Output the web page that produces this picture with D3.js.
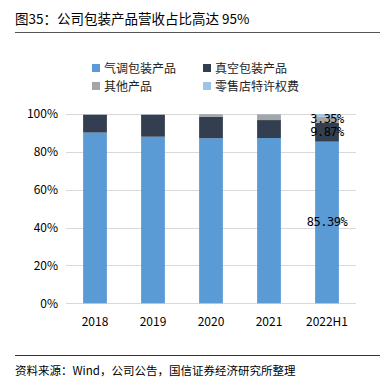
<!DOCTYPE html>
<html><head><meta charset="utf-8">
<script src="https://cdn.jsdelivr.net/npm/d3@7"></script>
<style>body{margin:0;background:#fff}svg{display:block}</style>
</head><body>
<svg id="c" width="380" height="380"></svg>
<script>
const categories = ["2018","2019","2020","2021","2022H1"];
const seriesNames = ["气调包装产品","真空包装产品","其他产品","零售店特许权费"];
const modifiedAtmosphere = [90.2, 88.0, 87.2, 87.3, 85.39];
const vacuum = [9.4, 11.6, 11.4, 9.5, 9.87];
const other = [0.3, 0.3, 1.3, 3.0, 3.35];
const franchise = [0.1, 0.1, 0.1, 0.2, 1.39];
const yTicks = [0,20,40,60,80,100];
const labels2022 = ["85.39%","9.87%","3.35%"];
const colors = ["#5B9BD5","#333F50","#A5A5A5","#9DC3E6"];

const svg = d3.select("#c");
const font = "'Noto Sans CJK SC','Noto Sans',sans-serif";

// title
svg.append("text").attr("x",15).attr("y",24).attr("font-family",font).attr("font-size",13.5).attr("fill","#000")
  .text("图35：公司包装产品营收占比高达 95%");
svg.append("line").attr("x1",15).attr("x2",380).attr("y1",32.5).attr("y2",32.5).attr("stroke","#555").attr("stroke-width",1);

const x = d3.scaleBand().domain(categories).range([66,356]).paddingInner(0.59).paddingOuter(0.295);
const y = d3.scaleLinear().domain([0,100]).range([303.3,114]);

// grid
svg.append("g").selectAll("line").data(yTicks).join("line")
  .attr("x1",66).attr("x2",356).attr("y1",d=>Math.round(y(d))+0.5).attr("y2",d=>Math.round(y(d))+0.5)
  .attr("stroke","#D9D9D9").attr("stroke-width",1.2);

// y labels
const yAxis = svg.append("g").attr("transform","translate(66,0)")
  .call(d3.axisLeft(y).tickValues(yTicks).tickFormat(d=>d+"%").tickSize(0).tickPadding(8));
yAxis.select(".domain").remove();
yAxis.selectAll("text").attr("font-family",font).attr("font-size",12).attr("fill","#000");

// x labels
const xAxis = svg.append("g").attr("transform","translate(0,305)")
  .call(d3.axisBottom(x).tickSize(0).tickPadding(12));
xAxis.select(".domain").remove();
xAxis.selectAll("text").attr("font-family",font).attr("font-size",12).attr("fill","#000");

// stacked bars
const rows = categories.map((c,i)=>({cat:c, s0:modifiedAtmosphere[i], s1:vacuum[i], s2:other[i], s3:franchise[i]}));
const stack = d3.stack().keys(["s0","s1","s2","s3"])(rows);
svg.append("g").selectAll("g").data(stack).join("g").attr("fill",(d,i)=>colors[i])
  .selectAll("rect").data(d=>d).join("rect")
  .attr("x",d=>x(d.data.cat)).attr("width",x.bandwidth())
  .attr("y",d=>y(d[1])).attr("height",d=>y(d[0])-y(d[1]));

// data labels on 2022H1
const last = categories.length-1;
const cx = x(categories[last]) + x.bandwidth()/2;
const lblY = [
  (y(0)+y(modifiedAtmosphere[last]))/2,
  y(modifiedAtmosphere[last]+vacuum[last])+0,
  y(modifiedAtmosphere[last]+vacuum[last]+other[last])+0
];
svg.append("g").selectAll("text").data(labels2022).join("text")
  .attr("x",cx).attr("y",(d,i)=>[lblY[0]+4, 136, 123][i])
  .attr("text-anchor","middle").attr("font-family","'DejaVu Sans Mono',monospace").attr("font-size",12).attr("fill","#000")
  .attr("letter-spacing",-0.5)
  .text(d=>d);

// legend
const legPos = [[92,68],[203,68],[92,86],[203,86]];
const leg = svg.append("g").selectAll("g").data(seriesNames).join("g")
  .attr("transform",(d,i)=>`translate(${legPos[i][0]},${legPos[i][1]})`);
leg.append("rect").attr("x",0).attr("y",-4).attr("width",8).attr("height",8).attr("fill",(d,i)=>colors[i]);
leg.append("text").attr("x",12).attr("y",4.5).attr("font-family",font).attr("font-size",12).attr("fill","#222").text(d=>d);

// footer
svg.append("line").attr("x1",15).attr("x2",380).attr("y1",355.5).attr("y2",355.5).attr("stroke","#333").attr("stroke-width",1);
svg.append("text").attr("x",15).attr("y",375).attr("font-family",font).attr("font-size",11.5).attr("fill","#000")
  .text("资料来源：Wind，公司公告，国信证券经济研究所整理");
</script>
</body></html>
